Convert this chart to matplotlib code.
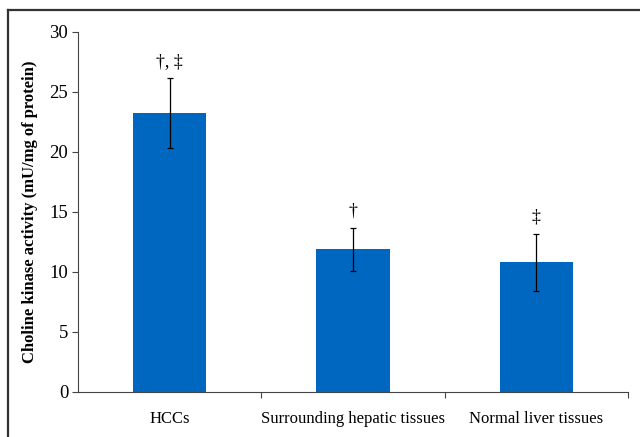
"""Choline kinase activity bar chart."""

import matplotlib.pyplot as plt
from matplotlib.lines import Line2D

categories = ["HCCs", "Surrounding hepatic tissues", "Normal liver tissues"]
activity = [23.25, 11.9, 10.8]
activity_sd = [2.9, 1.8, 2.4]
markers = ["\u2020, \u2021", "\u2020", "\u2021"]

plt.rcParams["font.family"] = ["Liberation Serif", "DejaVu Serif"]

fig = plt.figure(figsize=(6.4, 4.37), dpi=100)
ax = fig.add_axes([78 / 640, 45 / 437, 550 / 640, 360 / 437])

x = list(range(len(categories)))
ax.bar(x, activity, width=0.4, color="#0067c0", zorder=2)
ax.errorbar(x, activity, yerr=activity_sd, fmt="none", ecolor="black",
            elinewidth=0.9, capsize=2.5, capthick=0.9, zorder=3)
for xi, v, sd, m in zip(x, activity, activity_sd, markers):
    ax.text(xi, v + sd + 0.7, m, ha="center", va="bottom", fontsize=13)

ax.set_xlim(-0.5, 2.5)
ax.set_ylim(0, 30)
ax.set_yticks(range(0, 31, 5))
ax.set_xticks([0.5, 1.5, 2.5])
ax.set_xticklabels([])
ax.tick_params(axis="x", length=4, width=0.8, color="#444444")
ax.tick_params(axis="y", length=4, width=0.8, color="#444444", labelsize=13.5, pad=3)
for xi, lab in zip(x, categories):
    ax.text(xi, -1.6, lab, ha="center", va="top", fontsize=12,
            transform=ax.transData)
ax.set_ylabel("Choline kinase activity (mU/mg of protein)", fontsize=12,
              fontweight="bold", labelpad=8)

for side in ("top", "right"):
    ax.spines[side].set_visible(False)
for side in ("left", "bottom"):
    ax.spines[side].set_color("#444444")
    ax.spines[side].set_linewidth(0.8)

# outer frame: top and left edges
fig.add_artist(Line2D([7.5 / 640, 1.0], [427 / 437, 427 / 437],
                      transform=fig.transFigure, color="#333333", linewidth=1.6))
fig.add_artist(Line2D([7.5 / 640, 7.5 / 640], [0, 427 / 437],
                      transform=fig.transFigure, color="#333333", linewidth=1.6))

fig.savefig("out.png", dpi=100)
